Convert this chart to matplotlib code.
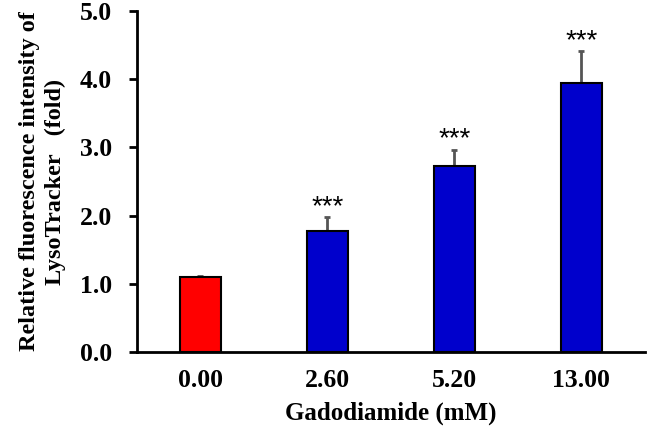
import matplotlib
matplotlib.use("Agg")
import matplotlib.pyplot as plt
import numpy as np

plt.rcParams['font.family'] = ['Liberation Serif', 'DejaVu Serif']

##data
doses = ['0.00', '2.60', '5.20', '13.00']
means = [1.10, 1.78, 2.72, 3.94]
errs = [0.01, 0.195, 0.245, 0.47]
colors = ['#ff0000', '#0000cc', '#0000cc', '#0000cc']
stars = ['', '***', '***', '***']

fig = plt.figure(figsize=(6.57, 4.28), dpi=100)
ax = fig.add_axes([0.2085, 0.1776, 0.773, 0.7967])

x = np.arange(len(doses))
ax.bar(x, means, width=0.32, color=colors, edgecolor='black', linewidth=1.5, zorder=2)
ax.errorbar(x, means, yerr=[np.zeros(len(errs)), errs], fmt='none',
            ecolor='#555555', elinewidth=2, capsize=2.5, capthick=2, zorder=1)

for xi, m, e, s in zip(x, means, errs, stars):
    if s:
        ax.text(xi, m + e - 0.04, s, ha='center', va='bottom', fontsize=20,
                family=['Liberation Sans', 'DejaVu Sans'])

ax.set_xlim(-0.5, 3.5)
ax.set_ylim(0, 5.0)
ax.set_yticks(np.arange(0, 5.01, 1.0))
ax.set_yticklabels(['%.1f' % v for v in np.arange(0, 5.01, 1.0)], fontsize=18.5, fontweight='bold')
ax.set_xticks(x)
ax.set_xticklabels(doses, fontsize=18.5, fontweight='bold')
ax.tick_params(axis='x', length=0, pad=12)
ax.tick_params(axis='y', length=6, width=2, direction='out', pad=12)

for side in ['top', 'right']:
    ax.spines[side].set_visible(False)
for side in ['left', 'bottom']:
    ax.spines[side].set_linewidth(2)

ax.set_xlabel('Gadodiamide (mM)', fontsize=18, fontweight='bold', labelpad=7)
ax.set_ylabel('Relative fluorescence intensity of\nLysoTracker   (fold)', fontsize=17.5,
              fontweight='bold', labelpad=10, linespacing=1.3)

fig.savefig('out.png', dpi=100)
